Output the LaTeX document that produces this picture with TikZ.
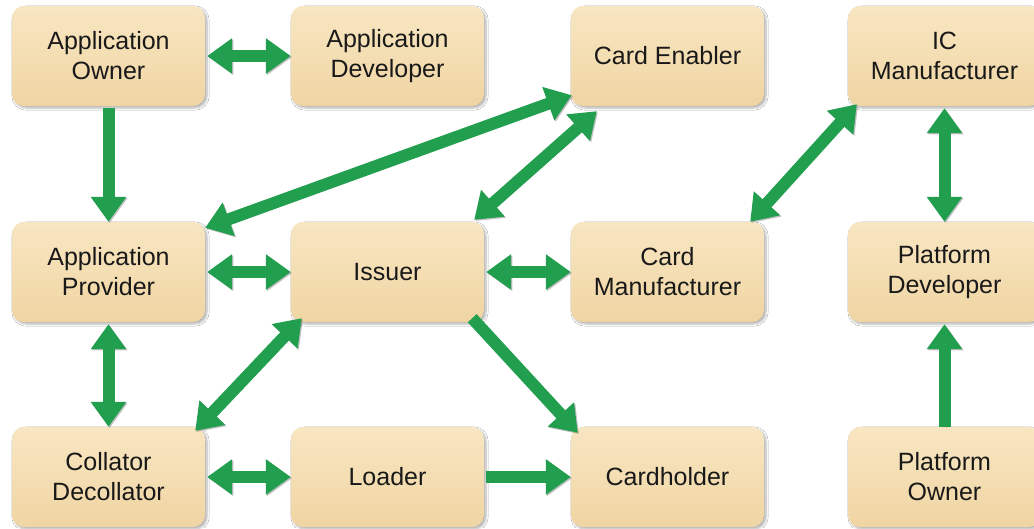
\documentclass[tikz,border=0pt]{standalone}
\usepackage{fontspec}
\setmainfont{Liberation Sans}
\usetikzlibrary{arrows.meta,calc,shadows.blur}
\definecolor{boxtop}{RGB}{248,230,194}
\definecolor{boxbot}{RGB}{240,213,163}
\definecolor{arrgreen}{RGB}{33,158,78}
\definecolor{txt}{RGB}{25,25,25}
\tikzset{
  role/.style={rectangle, rounded corners=12pt, minimum width=193pt, minimum height=100pt,
    top color=boxtop, bottom color=boxbot, draw=none, align=center, text=txt,
    font=\fontsize{25}{30}\selectfont,
    blur shadow={shadow xshift=2pt, shadow yshift=-2pt, shadow blur steps=6, shadow opacity=30}},
  flow/.style={draw=arrgreen, line width=12pt,
    -{Triangle[length=25pt,width=34pt]},
    preaction={draw=black!70, opacity=0.35, transform canvas={shift={(1.2pt,-1.2pt)}}}},
  dflow/.style={flow, {Triangle[length=25pt,width=34pt]}-{Triangle[length=25pt,width=34pt]}}
}
\begin{document}
\begin{tikzpicture}[x=1pt,y=-1pt]
\useasboundingbox (0,0) rectangle (1034,528);
\fill[white] (0,0) rectangle (1034,528);
% nodes
\node[role] (ao) at (108.5,56) {Application\\Owner};
\node[role] (ad) at (387.5,56) {Application\\Developer};
\node[role] (ce) at (667.5,56) {Card Enabler};
\node[role] (ic) at (944.5,56) {IC\\Manufacturer};
\node[role] (ap) at (108.5,272) {Application\\Provider};
\node[role] (is) at (387.5,272) {Issuer};
\node[role] (cm) at (667.5,272) {Card\\Manufacturer};
\node[role] (pd) at (944.5,272) {Platform\\Developer};
\node[role] (cd) at (108.5,477) {Collator\\Decollator};
\node[role] (lo) at (387.5,477) {Loader};
\node[role] (ch) at (667.5,477) {Cardholder};
\node[role] (po) at (944.5,477) {Platform\\Owner};
% connectors
\draw[dflow] ($(ao.east)+(2,0)$) -- (ad.west);
\draw[flow] ($(ao.south)+(0,2)$) -- (ap.north);
\draw[dflow] ($(ap.east)+(2,0)$) -- (is.west);
\draw[dflow] ($(ap.north east)+(0,6)$) -- ($(ce.south west)+(1,-11)$);
\draw[dflow] ($(ce.south west)+(26,5)$) -- ($(is.north east)+(-10,-2)$);
\draw[dflow] ($(is.east)+(2,0)$) -- (cm.west);
\draw[dflow] ($(ic.south west)+(9,-2)$) -- ($(cm.north east)+(-14,0)$);
\draw[dflow] ($(ic.south)+(0,2)$) -- (pd.north);
\draw[flow] (po.north) -- ($(pd.south)+(0,2)$);
\draw[dflow] ($(ap.south)+(0,2)$) -- (cd.north);
\draw[dflow] ($(is.south west)+(11,-4)$) -- ($(cd.north east)+(-10,4)$);
\draw[flow] ($(is.south east)+(-12,-4)$) -- ($(ch.north west)+(7,6)$);
\draw[dflow] ($(cd.east)+(2,0)$) -- (lo.west);
\draw[flow] ($(lo.east)+(2,0)$) -- (ch.west);
\end{tikzpicture}
\end{document}
